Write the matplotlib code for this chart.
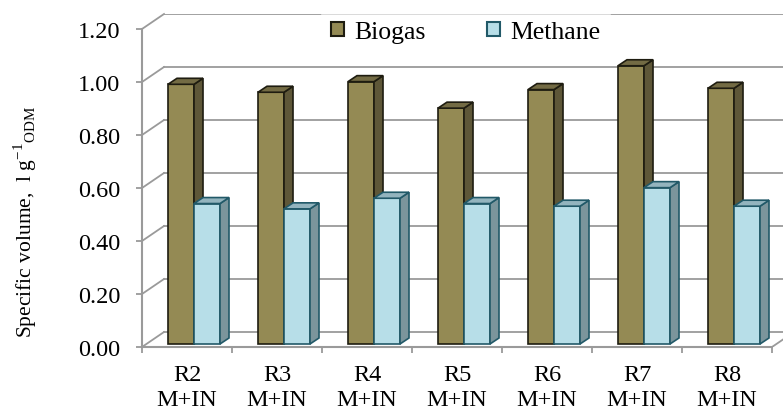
import matplotlib
matplotlib.use("Agg")
import matplotlib.pyplot as plt
from matplotlib.patches import Polygon, Patch
import numpy as np

# data
categories = ["R2\nM+IN", "R3\nM+IN", "R4\nM+IN", "R5\nM+IN", "R6\nM+IN", "R7\nM+IN", "R8\nM+IN"]
biogas = [0.98, 0.95, 0.99, 0.89, 0.96, 1.05, 0.965]
methane = [0.53, 0.51, 0.55, 0.53, 0.52, 0.59, 0.52]
y_ticks = [0.0, 0.2, 0.4, 0.6, 0.8, 1.0, 1.2]
y_ticklabels = ["0.00", "0.20", "0.40", "0.60", "0.80", "1.00", "1.20"]
series_names = ["Biogas", "Methane"]

plt.rcParams["font.family"] = ["Liberation Serif", "DejaVu Serif"]
plt.rcParams["mathtext.fontset"] = "custom"
plt.rcParams["mathtext.rm"] = "Liberation Serif"

# colours (front, side, top, edge)
bio_col = ("#948a54", "#5e5738", "#736b44", "#1e1c10")
met_col = ("#b7dee8", "#7b959c", "#93b4be", "#215968")
grid_col = "#9a9a9a"

W, H = 783, 414
fig = plt.figure(figsize=(W / 100, H / 100), dpi=100)

# pixel scale of the front plane
px_cat = 90.0     # px per category
px_val = 265.0    # px per 1.0 unit
x0_px, y0_px = 142, 348
ax = fig.add_axes([x0_px / W, (H - y0_px) / H, (W - x0_px) / W, (y0_px - 15) / H])
ax.set_xlim(-0.5, -0.5 + (W - x0_px) / px_cat)
ax.set_ylim(0, (y0_px - 15) / px_val)
ax.set_facecolor("none")

# 3d offsets
wdx, wdy = 22 / px_cat, 15 / px_val      # wall depth
bdx, bdy = 9 / px_cat, 6 / px_val        # bar depth
bx0, by0 = 7 / px_cat, 3 / px_val        # bars sit a bit behind the front
bw = 26 / px_cat
n = len(categories)
xmax = ax.get_xlim()[1]

# walls / gridlines
for v in y_ticks:
    ax.plot([-0.5, -0.5 + wdx], [v, v + wdy], color=grid_col, lw=1.3, zorder=1, clip_on=False)
    ax.plot([-0.5 + wdx, xmax], [v + wdy, v + wdy], color=grid_col, lw=1.3, zorder=1)
ax.plot([n - 0.5, n - 0.5 + wdx], [0, wdy], color=grid_col, lw=1.3, zorder=1)

# bars
def draw_bars(xl, vals, cols, z):
    ax.bar(xl, vals, width=bw, bottom=by0, align="edge", color=cols[0],
           edgecolor=cols[3], linewidth=1.2, zorder=z)
    for x, v in zip(xl, vals):
        xr = x + bw
        top = by0 + v
        side = [(xr, by0), (xr + bdx, by0 + bdy), (xr + bdx, top + bdy), (xr, top)]
        cap = [(x, top), (x + bdx, top + bdy), (xr + bdx, top + bdy), (xr, top)]
        ax.add_patch(Polygon(side, closed=True, facecolor=cols[1], edgecolor=cols[3], lw=1.2, zorder=z))
        ax.add_patch(Polygon(cap, closed=True, facecolor=cols[2], edgecolor=cols[3], lw=1.2, zorder=z))

idx = np.arange(n)
draw_bars(idx + bx0 - bw, biogas, bio_col, 3)
draw_bars(idx + bx0, methane, met_col, 4)

# axes
for s in ["top", "right"]:
    ax.spines[s].set_visible(False)
ax.spines["left"].set_bounds(0, 1.2)
ax.spines["bottom"].set_bounds(-0.5, n - 0.5)
for s in ["left", "bottom"]:
    ax.spines[s].set_color(grid_col)
    ax.spines[s].set_linewidth(1.5)

ax.set_yticks(y_ticks, y_ticklabels, fontsize=17.5)
ax.tick_params(axis="y", direction="out", length=4.5, width=1.3, color=grid_col, pad=11)
ax.set_xticks(np.arange(-0.5, n, 1.0), [""] * (n + 1))
ax.set_xticks(idx, categories, minor=True, fontsize=17.5, linespacing=1.3)
ax.tick_params(axis="x", which="major", direction="out", length=4.5, width=1.3, color=grid_col)
ax.tick_params(axis="x", which="minor", length=0, pad=12)

fig.text(25 / W, 1 - 222 / H, "Specific volume,  l g$^{\\mathregular{-1}}$$_{\\mathregular{ODM}}$",
         rotation=90, ha="center", va="center", fontsize=15.5)

handles = [Patch(facecolor=bio_col[0], edgecolor=bio_col[3], lw=1.5),
           Patch(facecolor=met_col[0], edgecolor=met_col[3], lw=1.5)]
fig.legend(handles, series_names, loc="center", bbox_to_anchor=(466 / W, 1 - 33 / H), ncol=2,
           fontsize=18.5, handlelength=0.5, handleheight=0.5, handletextpad=0.4,
           columnspacing=2.4, frameon=True, framealpha=0.6, edgecolor="none", facecolor="white")

fig.savefig("out.png", dpi=100)
